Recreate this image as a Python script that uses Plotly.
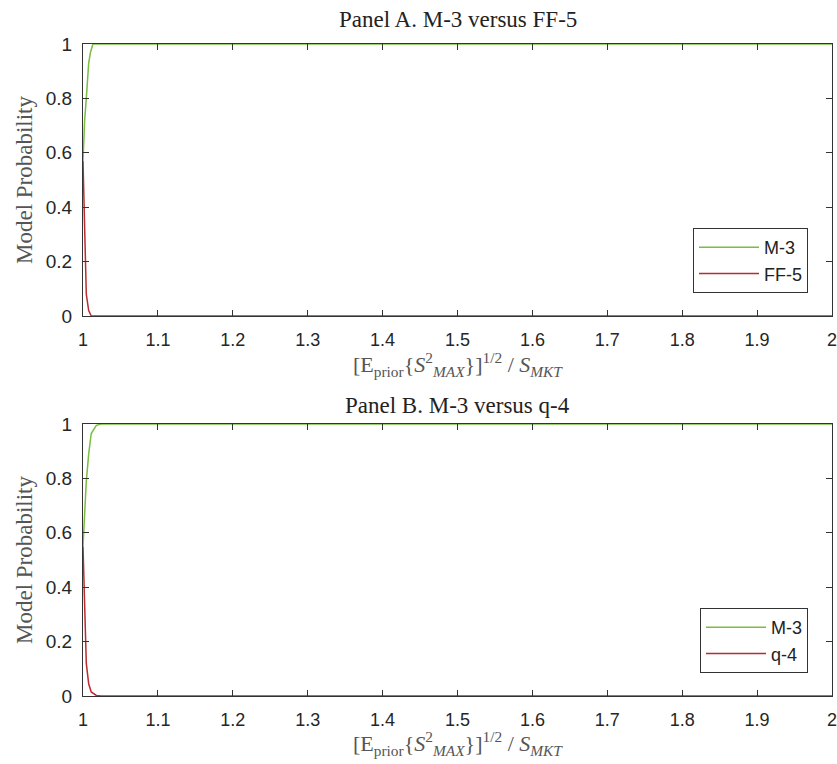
import plotly.graph_objects as go

# Panel A data
xa_m3 = [1.0, 1.0022, 1.0044, 1.0076, 1.0100, 1.0133, 1.02, 1.5, 2.0]
ya_m3 = [0.57, 0.72, 0.80, 0.93, 0.97, 1.0, 1.0, 1.0, 1.0]
xa_ff5 = [1.0, 1.0022, 1.0044, 1.0076, 1.011, 1.02, 1.5, 2.0]
ya_ff5 = [0.57, 0.30, 0.08, 0.02, 0.0, 0.0, 0.0, 0.0]

# Panel B data
xb_m3 = [1.0, 1.0022, 1.0044, 1.0076, 1.011, 1.0178, 1.0244, 1.5, 2.0]
yb_m3 = [0.55, 0.67, 0.79, 0.89, 0.965, 0.995, 1.0, 1.0, 1.0]
xb_q4 = [1.0, 1.0022, 1.0044, 1.0076, 1.011, 1.0178, 1.0244, 1.5, 2.0]
yb_q4 = [0.55, 0.30, 0.12, 0.045, 0.015, 0.002, 0.0, 0.0, 0.0]

x_ticks = [1, 1.1, 1.2, 1.3, 1.4, 1.5, 1.6, 1.7, 1.8, 1.9, 2]
x_ticklabels = ["1", "1.1", "1.2", "1.3", "1.4", "1.5", "1.6", "1.7", "1.8", "1.9", "2"]
y_ticks = [0, 0.2, 0.4, 0.6, 0.8, 1]
y_ticklabels = ["0", "0.2", "0.4", "0.6", "0.8", "1"]

GREEN = "#7abd3f"
RED = "#bb2a30"
AX = "#333333"
W, H = 837, 764
L, R = 83, 5

fig = go.Figure()
fig.add_trace(go.Scatter(x=xa_m3, y=ya_m3, mode="lines", name="M-3",
                         line=dict(color=GREEN, width=1.5), xaxis="x", yaxis="y", legend="legend"))
fig.add_trace(go.Scatter(x=xa_ff5, y=ya_ff5, mode="lines", name="FF-5",
                         line=dict(color=RED, width=1.5), xaxis="x", yaxis="y", legend="legend"))
fig.add_trace(go.Scatter(x=xb_m3, y=yb_m3, mode="lines", name="M-3",
                         line=dict(color=GREEN, width=1.5), xaxis="x2", yaxis="y2", legend="legend2"))
fig.add_trace(go.Scatter(x=xb_q4, y=yb_q4, mode="lines", name="q-4",
                         line=dict(color=RED, width=1.5), xaxis="x2", yaxis="y2", legend="legend2"))

def py(p):
    return 1 - p / H

def px(p):
    return (p - L) / (W - L - R)

xtickfont = dict(family="Liberation Sans, Arial, sans-serif", size=18, color="#262626")
ytickfont = dict(family="Liberation Sans, Arial, sans-serif", size=19, color="#262626")
serif = "Liberation Serif, Times New Roman, serif"

xax = dict(range=[1, 2], tickvals=x_ticks, ticktext=x_ticklabels, ticks="inside", ticklen=6,
           tickcolor=AX, showline=True, linecolor=AX, linewidth=1, mirror="ticks",
           showgrid=False, zeroline=False, tickfont=xtickfont, automargin=False,
           ticklabelstandoff=7, ticklabeloverflow="allow")
yax = dict(range=[0, 1], tickvals=y_ticks, ticktext=y_ticklabels, ticks="inside", ticklen=6,
           tickcolor=AX, showline=True, linecolor=AX, linewidth=1, mirror="ticks",
           showgrid=False, zeroline=False, tickfont=ytickfont, automargin=False,
           ticklabelstandoff=6, ticklabeloverflow="allow",
           title=dict(text="Model Probability", font=dict(family=serif, size=23, color="#555555"),
                      standoff=6))

legfont = dict(family="Liberation Sans, Arial, sans-serif", size=18, color="#222")
fig.update_layout(
    width=W, height=H, margin=dict(l=L, r=R, t=0, b=0, autoexpand=False),
    paper_bgcolor="white", plot_bgcolor="white",
    xaxis=dict(xax, domain=[0, 1], anchor="y"),
    yaxis=dict(yax, domain=[py(316), py(44)], anchor="x"),
    xaxis2=dict(xax, domain=[0, 1], anchor="y2"),
    yaxis2=dict(yax, domain=[py(696), py(424)], anchor="x2"),
    legend=dict(x=px(808), xanchor="right", y=py(293), yanchor="bottom",
                bordercolor=AX, borderwidth=1, bgcolor="white",
                font=legfont, itemwidth=60, tracegroupgap=0),
    legend2=dict(x=px(808), xanchor="right", y=py(673), yanchor="bottom",
                 bordercolor=AX, borderwidth=1, bgcolor="white",
                 font=legfont, itemwidth=60, tracegroupgap=0),
    showlegend=True,
)

xlabel = ("[E<sub>prior</sub>{<i>S</i><sup>2</sup><sub><i>MAX</i></sub>}]<sup>1/2</sup>"
          " / <i>S</i><sub><i>MKT</i></sub>")
anns = [
    dict(text="Panel A. M-3 versus FF-5", x=0.5, y=py(5), yanchor="top", xref="paper", yref="paper",
         showarrow=False, font=dict(family=serif, size=23, color="#222")),
    dict(text="Panel B. M-3 versus q-4", x=0.5, y=py(420), yanchor="bottom", xref="paper", yref="paper",
         showarrow=False, font=dict(family=serif, size=23, color="#222")),
    dict(text=xlabel, x=0.5, y=py(382), yanchor="bottom", xref="paper", yref="paper",
         showarrow=False, font=dict(family=serif, size=22, color="#555555")),
    dict(text=xlabel, x=0.5, y=py(761), yanchor="bottom", xref="paper", yref="paper",
         showarrow=False, font=dict(family=serif, size=22, color="#555555")),
]
fig.update_layout(annotations=anns)

fig.write_html("out.html", config={"displayModeBar": False},
               post_script="document.body.style.margin='0';document.body.style.overflow='hidden';")
